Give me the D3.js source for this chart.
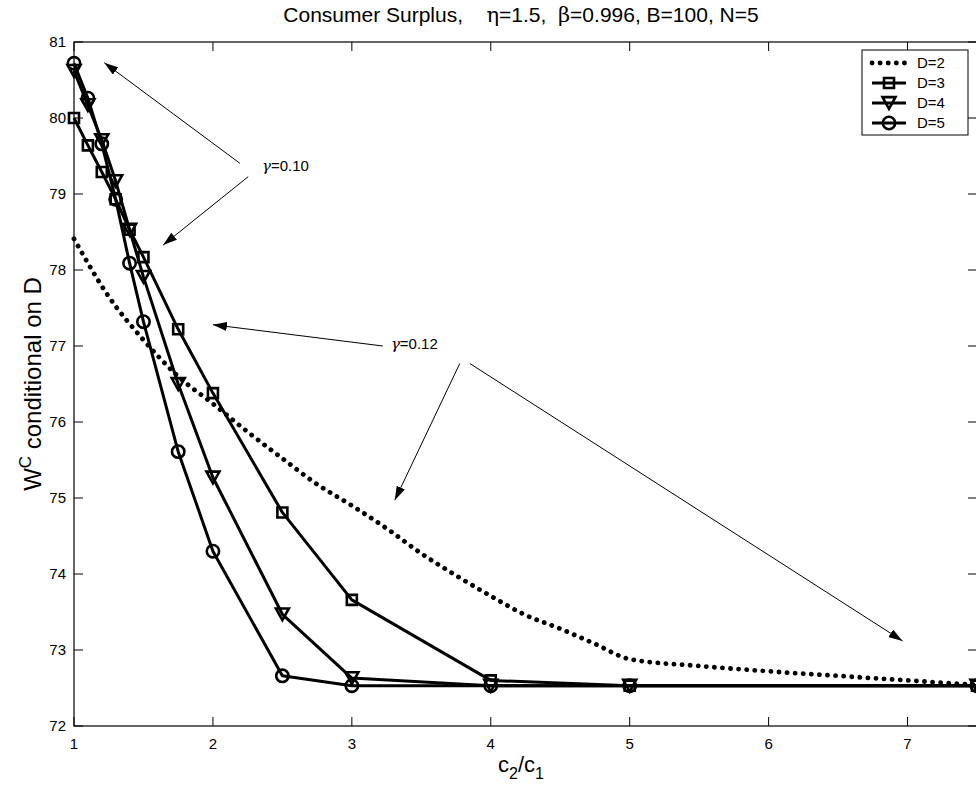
<!DOCTYPE html>
<html>
<head>
<meta charset="utf-8">
<script src="https://cdn.jsdelivr.net/npm/d3@7"></script>
<style>
body { margin: 0; background: #fff; }
text { font-family: "Liberation Sans", Arial, Helvetica, sans-serif; fill: #000; }
</style>
</head>
<body>
<svg id="chart" width="976" height="797"></svg>
<script>
// c2/c1 grid used for the marked series
var ratio = [1, 1.1, 1.2, 1.3, 1.4, 1.5, 1.75, 2, 2.5, 3, 4, 5, 7.5];
var welfareD3 = [80.0, 79.64, 79.29, 78.93, 78.53, 78.17, 77.22, 76.38, 74.81, 73.66, 72.6, 72.53, 72.53];
var welfareD4 = [80.62, 80.17, 79.71, 79.17, 78.53, 77.91, 76.5, 75.27, 73.47, 72.63, 72.53, 72.53, 72.53];
var welfareD5 = [80.72, 80.26, 79.66, 78.93, 78.09, 77.32, 75.61, 74.3, 72.66, 72.53, 72.53, 72.53, 72.53];

// D=2 is drawn as a smooth dotted curve
var ratioD2 = [1, 1.25, 1.5, 1.75, 2, 2.25, 2.5, 2.75, 3, 3.25, 3.5, 3.75, 4, 4.25, 4.5, 4.75, 5, 5.5, 6, 6.5, 7, 7.5];
var welfareD2 = [78.41, 77.65, 77.08, 76.6, 76.24, 75.87, 75.52, 75.18, 74.9, 74.6, 74.27, 73.98, 73.71, 73.46, 73.28, 73.08, 72.88, 72.79, 72.72, 72.66, 72.6, 72.54];

var xTicks = [1, 2, 3, 4, 5, 6, 7];
var yTicks = [72, 73, 74, 75, 76, 77, 78, 79, 80, 81];
var legendLabels = ["D=2", "D=3", "D=4", "D=5"];

// annotation arrows, in data units: [x0, y0, x1(tip), y1(tip)]
var arrows010 = [[2.194, 79.404, 1.218, 80.728], [2.254, 79.228, 1.642, 78.329]];
var arrows012 = [[3.223, 77.0, 2.0, 77.28], [3.777, 76.77, 3.309, 74.97], [3.849, 76.77, 6.964, 73.12]];

var svg = d3.select("#chart");
var x = d3.scaleLinear().domain([1, 7.5]).range([74, 977]);
var y = d3.scaleLinear().domain([72, 81]).range([726, 42]);

// frame
svg.append("rect")
    .attr("x", x(1)).attr("y", y(81))
    .attr("width", x(7.5) - x(1)).attr("height", y(72) - y(81))
    .attr("fill", "none").attr("stroke", "#000").attr("stroke-width", 1.2);

var tickLen = 9;
var ax = svg.append("g").attr("stroke", "#000").attr("stroke-width", 1);
xTicks.forEach(function (t) {
    ax.append("line").attr("x1", x(t)).attr("x2", x(t)).attr("y1", y(72)).attr("y2", y(72) - tickLen);
    ax.append("line").attr("x1", x(t)).attr("x2", x(t)).attr("y1", y(81)).attr("y2", y(81) + tickLen);
});
yTicks.forEach(function (t) {
    ax.append("line").attr("x1", x(1)).attr("x2", x(1) + tickLen).attr("y1", y(t)).attr("y2", y(t));
    ax.append("line").attr("x1", x(7.5)).attr("x2", x(7.5) - tickLen).attr("y1", y(t)).attr("y2", y(t));
});

svg.append("g").selectAll("text").data(xTicks).enter().append("text")
    .attr("x", function (d) { return x(d); })
    .attr("y", y(72) + 23)
    .attr("text-anchor", "middle")
    .attr("font-size", 15)
    .text(function (d) { return d; });

svg.append("g").selectAll("text").data(yTicks).enter().append("text")
    .attr("x", x(1) - 8)
    .attr("y", function (d) { return y(d) + 5; })
    .attr("text-anchor", "end")
    .attr("font-size", 15)
    .text(function (d) { return d; });

// title
var title = svg.append("text")
    .attr("x", 521).attr("y", 22)
    .attr("text-anchor", "middle")
    .attr("font-size", 21)
    .attr("xml:space", "preserve")
    .style("white-space", "pre");
title.append("tspan").text("Consumer Surplus,    ");
title.append("tspan").attr("font-family", "DejaVu Serif, serif").text("\u03b7");
title.append("tspan").text("=1.5,  ");
title.append("tspan").attr("font-family", "DejaVu Serif, serif").text("\u03b2");
title.append("tspan").text("=0.996, B=100, N=5");

// axis labels
var xl = svg.append("text")
    .attr("x", 521).attr("y", 772)
    .attr("text-anchor", "middle")
    .attr("font-size", 22);
xl.append("tspan").text("c");
xl.append("tspan").attr("font-size", 16).attr("dy", 7).text("2");
xl.append("tspan").attr("dy", -7).text("/c");
xl.append("tspan").attr("font-size", 16).attr("dy", 7).text("1");

var yl = svg.append("text")
    .attr("transform", "translate(41," + ((y(72) + y(81)) / 2) + ") rotate(-90)")
    .attr("text-anchor", "middle")
    .attr("font-size", 24);
yl.append("tspan").text("W");
yl.append("tspan").attr("font-size", 17).attr("dy", -10).text("C");
yl.append("tspan").attr("dy", 10).text(" conditional on D");

// data lines
var plot = svg.append("g");
var line = d3.line()
    .x(function (d) { return x(d[0]); })
    .y(function (d) { return y(d[1]); });
var smooth = d3.line()
    .curve(d3.curveMonotoneX)
    .x(function (d) { return x(d[0]); })
    .y(function (d) { return y(d[1]); });

plot.append("path")
    .datum(d3.zip(ratioD2, welfareD2))
    .attr("d", smooth)
    .attr("fill", "none").attr("stroke", "#000")
    .attr("stroke-width", 4.8)
    .attr("stroke-linecap", "round")
    .attr("stroke-dasharray", "0.1 8");

var symSquare = d3.symbol().type(d3.symbolSquare).size(100);
var symCircle = d3.symbol().type(d3.symbolCircle).size(120);
function triDown(s) {
    var h = s * 0.9;
    return "M" + (-s / 2) + "," + (-h / 2) + "L" + (s / 2) + "," + (-h / 2) + "L0," + (h / 2) + "Z";
}
var series = [
    { vals: welfareD3, mark: function () { return symSquare(); } },
    { vals: welfareD4, mark: function () { return triDown(13); } },
    { vals: welfareD5, mark: function () { return symCircle(); } }
];

series.forEach(function (s) {
    var pts = d3.zip(ratio, s.vals);
    plot.append("path")
        .datum(pts)
        .attr("d", line)
        .attr("fill", "none").attr("stroke", "#000")
        .attr("stroke-width", 3)
        .attr("stroke-linejoin", "round");
    plot.append("g").selectAll("path").data(pts).enter().append("path")
        .attr("transform", function (d) { return "translate(" + x(d[0]) + "," + y(d[1]) + ")"; })
        .attr("d", s.mark)
        .attr("fill", "none").attr("stroke", "#000").attr("stroke-width", 2.6);
});

// annotations
svg.append("defs").append("marker")
    .attr("id", "head")
    .attr("viewBox", "0 0 14 9")
    .attr("refX", 14).attr("refY", 4.5)
    .attr("markerWidth", 14).attr("markerHeight", 9)
    .attr("markerUnits", "userSpaceOnUse")
    .attr("orient", "auto")
    .append("path").attr("d", "M0,0L14,4.5L0,9Z").attr("fill", "#000");

var ann = svg.append("g");
arrows010.concat(arrows012).forEach(function (a) {
    ann.append("line")
        .attr("x1", x(a[0])).attr("y1", y(a[1]))
        .attr("x2", x(a[2])).attr("y2", y(a[3]))
        .attr("stroke", "#000").attr("stroke-width", 1)
        .attr("marker-end", "url(#head)");
});

function gammaLabel(px, py, val) {
    var t = ann.append("text").attr("x", px).attr("y", py).attr("font-size", 15);
    t.append("tspan").attr("font-family", "DejaVu Serif, serif").attr("font-style", "italic").text("\u03b3");
    t.append("tspan").text("=" + val);
}
gammaLabel(x(2.353), y(79.3), "0.10");
gammaLabel(x(3.281), y(76.96), "0.12");

// legend
var lg = svg.append("g");
var lgLeft = 862, lgTop = 50, rowH = 20;
lg.append("rect")
    .attr("x", lgLeft).attr("y", lgTop)
    .attr("width", 106).attr("height", rowH * 4 + 5)
    .attr("fill", "#fff").attr("stroke", "#000").attr("stroke-width", 1);

var lgMarks = [null, function () { return symSquare(); }, function () { return triDown(13); }, function () { return symCircle(); }];
legendLabels.forEach(function (lab, i) {
    var cy = lgTop + 13 + i * rowH;
    var l = lg.append("line")
        .attr("x1", lgLeft + 10).attr("x2", lgLeft + 44)
        .attr("y1", cy).attr("y2", cy)
        .attr("stroke", "#000");
    if (i === 0) {
        l.attr("stroke-width", 4.8).attr("stroke-linecap", "round").attr("stroke-dasharray", "0.1 8");
    } else {
        l.attr("stroke-width", 3);
        lg.append("path")
            .attr("transform", "translate(" + (lgLeft + 27) + "," + cy + ")")
            .attr("d", lgMarks[i])
            .attr("fill", "none").attr("stroke", "#000").attr("stroke-width", 2.6);
    }
    lg.append("text")
        .attr("x", lgLeft + 55).attr("y", cy + 5)
        .attr("font-size", 15)
        .text(lab);
});
</script>
</body>
</html>
